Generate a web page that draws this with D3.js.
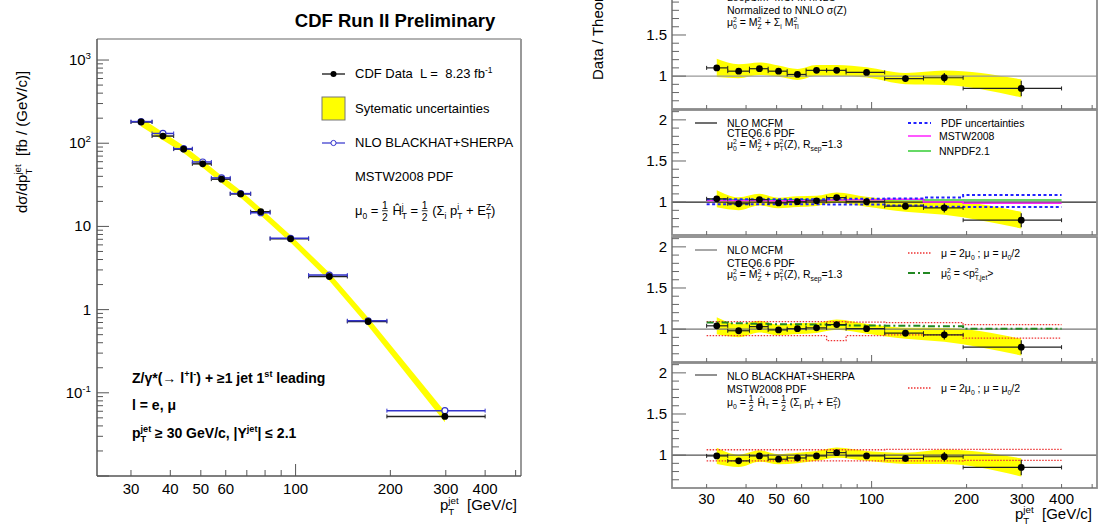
<!DOCTYPE html>
<html>
<head>
<meta charset="utf-8">
<script src="https://cdn.jsdelivr.net/npm/d3@7"></script>
<style>
  body { margin: 0; background: #fff; }
  svg { font-family: "Liberation Sans", Arial, sans-serif; }
  svg text { white-space: pre; }
</style>
</head>
<body>
<div id="chart"></div>
<script>
// bins of leading jet pT (GeV/c)
var binEdges = [30, 35, 41, 47, 54, 62, 72, 83, 110, 146, 195, 400];
var binCenters = [32.3, 37.9, 44.1, 50.7, 58.2, 66.9, 77.5, 96.4, 128, 170, 298];

// cross sections fb/(GeV/c)
var xsData = [180, 122, 85, 56.5, 37, 24.6, 15, 7.1, 2.5, 0.72, 0.052];
var xsTheory = [182, 131, 86, 59.5, 38.3, 24.8, 14.6, 7.2, 2.6, 0.735, 0.061];
var sysTotal = [0.12, 0.11, 0.10, 0.10, 0.10, 0.10, 0.10, 0.10, 0.11, 0.12, 0.15];

// data / theory ratios
var ratioLoopSim = [1.10, 1.06, 1.09, 1.06, 1.02, 1.07, 1.07, 1.045, 0.97, 0.98, 0.85];
var ratioMcfm = [1.04, 0.98, 1.03, 0.99, 1.005, 1.015, 1.055, 1.005, 0.95, 0.93, 0.78];
var ratioBlackhat = [0.99, 0.93, 0.99, 0.95, 0.965, 0.99, 1.03, 0.99, 0.96, 0.98, 0.85];
var sysErr = [0.10, 0.08, 0.07, 0.065, 0.065, 0.06, 0.06, 0.06, 0.07, 0.09, 0.13];
var statErr = [0.01, 0.01, 0.012, 0.015, 0.015, 0.02, 0.025, 0.025, 0.04, 0.06, 0.11];

// theory variations (ratio to nominal)
var pdfUp = [1.035, 1.035, 1.035, 1.035, 1.035, 1.035, 1.04, 1.04, 1.045, 1.055, 1.085];
var pdfDown = [0.975, 0.975, 0.975, 0.975, 0.975, 0.975, 0.97, 0.97, 0.96, 0.945, 0.94];
var mstw = [1.02, 1.02, 1.02, 1.015, 1.015, 1.02, 1.025, 1.03, 1.035, 1.0, 0.985];
var nnpdf = [1.03, 1.03, 1.03, 1.03, 1.03, 1.03, 1.03, 1.03, 1.03, 1.025, 1.025];
var mcfmScaleUp = [1.09, 1.09, 1.09, 1.09, 1.09, 1.09, 1.09, 1.085, 1.08, 1.08, 1.055];
var mcfmScaleDown = [0.92, 0.92, 0.92, 0.92, 0.92, 0.92, 0.86, 0.92, 0.93, 0.93, 0.89];
var mcfmPtJet = [1.08, 1.07, 1.065, 1.06, 1.06, 1.055, 1.05, 1.045, 1.04, 1.035, 1.005];
var bhScaleUp = [1.065, 1.065, 1.065, 1.065, 1.065, 1.065, 1.065, 1.065, 1.07, 1.07, 1.07];
var bhScaleDown = [0.93, 0.93, 0.93, 0.93, 0.93, 0.93, 0.93, 0.93, 0.93, 0.93, 0.935];

var xTickLabels = [30, 40, 50, 60, 100, 200, 300, 400];
var xTicks = [30, 40, 50, 60, 70, 80, 90, 100, 200, 300, 400, 500];

var svg = d3.select("#chart").append("svg")
  .attr("width", 1102).attr("height", 526);
svg.append("rect").attr("width", 1102).attr("height", 526).attr("fill", "#fff");

// text with sub/superscripts and fractions
function rich(g, x, y, parts, size, weight) {
  var cx = x;
  function put(tx, ty, s, fs) {
    return g.append("text").attr("x", tx).attr("y", ty).attr("font-size", fs)
      .attr("font-weight", weight || "normal").attr("fill", "#000").text(s);
  }
  parts.forEach(function(p) {
    if (typeof p === "string") {
      cx += put(cx, y, p, size).node().getComputedTextLength();
    } else if (p.frac) {
      var fs = size * 0.8;
      var a = put(cx, y - size * 0.45, p.frac[0], fs);
      var b = put(cx, y + size * 0.45, p.frac[1], fs);
      var w = Math.max(a.node().getComputedTextLength(), b.node().getComputedTextLength());
      g.append("line").attr("x1", cx).attr("x2", cx + w)
        .attr("y1", y - size * 0.33).attr("y2", y - size * 0.33)
        .attr("stroke", "#000").attr("stroke-width", 0.8);
      cx += w + 1;
    } else {
      var fs2 = size * 0.65, w2 = 0;
      if (p.sup) w2 = Math.max(w2, put(cx, y - size * 0.42, p.sup, fs2).node().getComputedTextLength());
      if (p.sub) w2 = Math.max(w2, put(cx, y + size * 0.3, p.sub, fs2).node().getComputedTextLength());
      cx += w2;
    }
  });
  return cx - x;
}

function stepPoints(vals) {
  var pts = [];
  vals.forEach(function(v, i) {
    pts.push([binEdges[i], v]);
    pts.push([binEdges[i + 1], v]);
  });
  return pts;
}

// ---------------- left: cross section ----------------
var xL = d3.scaleLog().domain([23.4, 520]).range([97, 521]);
var yL = d3.scaleLog().domain([0.01, 1790]).range([476, 39]);

var left = svg.append("g");

// systematic band
var bandL = binCenters.map(function(c, i) {
  return {x: c, lo: xsData[i] * (1 - sysTotal[i]), hi: xsData[i] * (1 + sysTotal[i])};
});
left.append("path").datum(bandL)
  .attr("d", d3.area().x(function(d) { return xL(d.x); })
    .y0(function(d) { return yL(d.lo); }).y1(function(d) { return yL(d.hi); }))
  .attr("fill", "#ffff00");

function hbar(g, x0, x1, y, color, w) {
  g.append("line").attr("x1", x0).attr("x2", x1).attr("y1", y).attr("y2", y)
    .attr("stroke", color).attr("stroke-width", w);
  [x0, x1].forEach(function(xx) {
    g.append("line").attr("x1", xx).attr("x2", xx).attr("y1", y - 2).attr("y2", y + 2)
      .attr("stroke", color).attr("stroke-width", 1);
  });
}

xsData.forEach(function(v, i) {
  hbar(left, xL(binEdges[i]), xL(binEdges[i + 1]), yL(v), "#222", 1.5);
});
xsTheory.forEach(function(v, i) {
  hbar(left, xL(binEdges[i]), xL(binEdges[i + 1]), yL(v), "#3333cc", 1.5);
});
left.selectAll(".th").data(xsTheory).enter().append("circle")
  .attr("cx", function(d, i) { return xL(binCenters[i]); })
  .attr("cy", function(d) { return yL(d); })
  .attr("r", 3).attr("fill", "#fff").attr("stroke", "#3333cc").attr("stroke-width", 1.2);
left.selectAll(".pt").data(xsData).enter().append("circle")
  .attr("cx", function(d, i) { return xL(binCenters[i]); })
  .attr("cy", function(d) { return yL(d); })
  .attr("r", 3.4).attr("fill", "#000");

// frame
left.append("line").attr("x1", 97).attr("x2", 521).attr("y1", 39).attr("y2", 39).attr("stroke", "#999").attr("stroke-width", 1.5);
left.append("line").attr("x1", 521).attr("x2", 521).attr("y1", 39).attr("y2", 476).attr("stroke", "#999").attr("stroke-width", 2);
left.append("line").attr("x1", 97).attr("x2", 97).attr("y1", 39).attr("y2", 476).attr("stroke", "#555").attr("stroke-width", 1.5);
left.append("line").attr("x1", 97).attr("x2", 521).attr("y1", 476).attr("y2", 476).attr("stroke", "#555").attr("stroke-width", 1.5);

// y ticks
for (var e = -2; e <= 3; e++) {
  for (var m = 1; m <= 9; m++) {
    var v = m * Math.pow(10, e);
    if (v < 0.01 || v > 1790) continue;
    var yy = yL(v);
    left.append("line").attr("x1", 97).attr("x2", 97 + (m === 1 ? 12 : 6))
      .attr("y1", yy).attr("y2", yy).attr("stroke", "#555").attr("stroke-width", 1);
  }
}
var yLabels = [[0.1, ["10", {sup: "-1"}]], [1, ["1"]], [10, ["10"]], [100, ["10", {sup: "2"}]], [1000, ["10", {sup: "3"}]]];
yLabels.forEach(function(l) {
  var g = left.append("g");
  var w = rich(g, 0, 0, l[1], 15);
  g.attr("transform", "translate(" + (91 - w) + "," + (yL(l[0]) + 5) + ")");
});

// x ticks
xTicks.forEach(function(t) {
  left.append("line").attr("x1", xL(t)).attr("x2", xL(t)).attr("y1", 476)
    .attr("y2", 476 - (t === 100 ? 12 : 6)).attr("stroke", "#555").attr("stroke-width", 1);
});
left.selectAll(".xl").data(xTickLabels).enter().append("text")
  .attr("x", function(d) { return xL(d); }).attr("y", 494)
  .attr("text-anchor", "middle").attr("font-size", 15).text(function(d) { return d; });

// axis titles
rich(left, 440, 510, ["p", {sup: "jet", sub: "T"}, "  [GeV/c]"], 15);
var yt = left.append("g").attr("transform", "translate(27,213) rotate(-90)");
rich(yt, 0, 0, ["dσ/dp", {sup: "jet", sub: "T"}, "  [fb / (GeV/c)]"], 15);

// title
svg.append("text").attr("x", 395).attr("y", 27).attr("text-anchor", "middle")
  .attr("font-size", 18.5).attr("font-weight", "bold").text("CDF Run II Preliminary");

// legend
var fsL = 13;
var lg = left.append("g");
lg.append("line").attr("x1", 322).attr("x2", 345).attr("y1", 74).attr("y2", 74).attr("stroke", "#000").attr("stroke-width", 1.2);
lg.append("circle").attr("cx", 333.5).attr("cy", 74).attr("r", 3).attr("fill", "#000");
rich(lg, 355, 78, ["CDF Data  L =  8.23 fb", {sup: "-1"}], fsL);
lg.append("rect").attr("x", 322).attr("y", 97).attr("width", 23).attr("height", 23)
  .attr("fill", "#ffff00").attr("stroke", "#777").attr("stroke-width", 1);
rich(lg, 355, 113, ["Sytematic uncertainties"], fsL);
lg.append("line").attr("x1", 322).attr("x2", 345).attr("y1", 143).attr("y2", 143).attr("stroke", "#3333cc").attr("stroke-width", 1.2);
lg.append("circle").attr("cx", 333.5).attr("cy", 143).attr("r", 2.6).attr("fill", "#fff").attr("stroke", "#3333cc");
rich(lg, 355, 147, ["NLO BLACKHAT+SHERPA"], fsL);
rich(lg, 355, 181, ["MSTW2008 PDF"], fsL);
rich(lg, 355, 215, ["μ", {sub: "0"}, " = ", {frac: ["1", "2"]}, " Ĥ", {sup: "j", sub: "T"}, " = ",
  {frac: ["1", "2"]}, " (Σ", {sub: "i"}, " p", {sup: "i", sub: "T"}, " + E", {sup: "Z", sub: "T"}, ")"], fsL);

// selection text
rich(left, 132, 383, ["Z/γ*(→ l", {sup: "+"}, "l", {sup: "-"}, ") + ≥1 jet 1", {sup: "st"}, " leading"], 14, "bold");
rich(left, 132, 410, ["l = e, μ"], 14, "bold");
rich(left, 132, 438, ["p", {sup: "jet", sub: "T"}, " ≥ 30 GeV/c, |Y", {sup: "jet"}, "| ≤ 2.1"], 14, "bold");

// ---------------- right: ratio panels ----------------
var xR = d3.scaleLog().domain([23.3, 518]).range([672, 1097]);
var panelH = 125;
var defs = svg.append("defs");

function ratioPanel(idx, top, ratio, unityColor, variations) {
  var y = d3.scaleLinear().domain([0.6, 2.12]).range([top + panelH, top]);
  defs.append("clipPath").attr("id", "clip" + idx).append("rect")
    .attr("x", 672).attr("y", top).attr("width", 425).attr("height", panelH);
  var g = svg.append("g");
  var c = g.append("g").attr("clip-path", "url(#clip" + idx + ")");

  var band = binCenters.map(function(bc, i) {
    return {x: bc, lo: ratio[i] * (1 - sysErr[i]), hi: ratio[i] * (1 + sysErr[i])};
  });
  c.append("path").datum(band)
    .attr("d", d3.area().x(function(d) { return xR(d.x); })
      .y0(function(d) { return y(d.lo); }).y1(function(d) { return y(d.hi); })
      .curve(d3.curveMonotoneX))
    .attr("fill", "#ffff00");

  c.append("line").attr("x1", 672).attr("x2", 1097).attr("y1", y(1)).attr("y2", y(1))
    .attr("stroke", unityColor).attr("stroke-width", 1.3);

  var line = d3.line().x(function(d) { return xR(d[0]); }).y(function(d) { return y(d[1]); });
  variations.forEach(function(vr) {
    c.append("path").datum(stepPoints(vr.vals)).attr("d", line)
      .attr("fill", "none").attr("stroke", vr.color).attr("stroke-width", vr.width)
      .attr("stroke-dasharray", vr.dash || null);
  });

  ratio.forEach(function(r, i) {
    hbar(c, xR(binEdges[i]), xR(binEdges[i + 1]), y(r), "#222", 1.2);
    c.append("line").attr("x1", xR(binCenters[i])).attr("x2", xR(binCenters[i]))
      .attr("y1", y(r * (1 - statErr[i]))).attr("y2", y(r * (1 + statErr[i])))
      .attr("stroke", "#222").attr("stroke-width", 1.2);
  });
  c.selectAll(".rp").data(ratio).enter().append("circle")
    .attr("cx", function(d, i) { return xR(binCenters[i]); })
    .attr("cy", function(d) { return y(d); })
    .attr("r", 3.4).attr("fill", "#000");

  // frame
  g.append("rect").attr("x", 672).attr("y", top).attr("width", 425).attr("height", panelH)
    .attr("fill", "none").attr("stroke", "#8a8a8a").attr("stroke-width", 1.8);

  // y ticks
  for (var k = 7; k <= 21; k++) {
    var yy = y(k / 10);
    var major = (k === 10 || k === 15 || k === 20);
    if (yy < 0) continue;
    g.append("line").attr("x1", 672).attr("x2", 672 + (major ? 14 : 7))
      .attr("y1", yy).attr("y2", yy).attr("stroke", "#666").attr("stroke-width", 1);
  }
  [1, 1.5, 2].forEach(function(v) {
    g.append("text").attr("x", 667).attr("y", y(v) + 5).attr("text-anchor", "end")
      .attr("font-size", 15).text(v);
  });
  // x ticks
  xTicks.forEach(function(t) {
    g.append("line").attr("x1", xR(t)).attr("x2", xR(t)).attr("y1", top + panelH)
      .attr("y2", top + panelH - (t === 100 ? 7 : 4)).attr("stroke", "#666").attr("stroke-width", 1);
  });
  return g;
}

var red = "#ee3333";
var p1 = ratioPanel(1, -16, ratioLoopSim, "#999", []);
var p2 = ratioPanel(2, 110, ratioMcfm, "#222", [
  {vals: nnpdf, color: "#33cc33", width: 1.5},
  {vals: mstw, color: "#ff22ff", width: 1.5},
  {vals: pdfUp, color: "#2222ff", width: 2, dash: "3,2.5"},
  {vals: pdfDown, color: "#2222ff", width: 2, dash: "3,2.5"}
]);
var p3 = ratioPanel(3, 237, ratioMcfm, "#777", [
  {vals: mcfmScaleUp, color: red, width: 1.3, dash: "1.5,1.5"},
  {vals: mcfmScaleDown, color: red, width: 1.3, dash: "1.5,1.5"},
  {vals: mcfmPtJet, color: "#228822", width: 2, dash: "7,3,2,3"}
]);
var p4 = ratioPanel(4, 363, ratioBlackhat, "#555", [
  {vals: bhScaleUp, color: red, width: 1.3, dash: "1.5,1.5"},
  {vals: bhScaleDown, color: red, width: 1.3, dash: "1.5,1.5"}
]);

// panel legends
var fsR = 10.5;
rich(p1, 727, 1, ["LoopSim+MCFM nNLO"], fsR);
rich(p1, 727, 14, ["Normalized to NNLO σ(Z)"], fsR);
rich(p1, 727, 26, ["μ", {sup: "2", sub: "0"}, " = M", {sup: "2", sub: "Z"}, " + Σ", {sub: "i"}, " M", {sup: "2", sub: "Ti"}], fsR);

function legLine(g, y, color, width, dash) {
  g.append("line").attr("x1", 695).attr("x2", 717).attr("y1", y).attr("y2", y)
    .attr("stroke", color).attr("stroke-width", width).attr("stroke-dasharray", dash || null);
}
function legLineR(g, y, color, width, dash) {
  g.append("line").attr("x1", 908).attr("x2", 931).attr("y1", y).attr("y2", y)
    .attr("stroke", color).attr("stroke-width", width).attr("stroke-dasharray", dash || null);
}

legLine(p2, 123, "#222", 1.3);
rich(p2, 727, 127, ["NLO MCFM"], fsR);
rich(p2, 727, 137, ["CTEQ6.6 PDF"], fsR);
rich(p2, 727, 148, ["μ", {sup: "2", sub: "0"}, " = M", {sup: "2", sub: "Z"}, " + p", {sup: "2", sub: "T"}, "(Z), R", {sub: "sep"}, "=1.3"], fsR);
legLineR(p2, 123, "#2222ff", 2, "3,2.5");
rich(p2, 941, 127, ["PDF uncertainties"], fsR);
legLineR(p2, 136, "#ff22ff", 1.5);
rich(p2, 939, 140, ["MSTW2008"], fsR);
legLineR(p2, 151, "#33cc33", 1.5);
rich(p2, 939, 155, ["NNPDF2.1"], fsR);

legLine(p3, 250, "#777", 1.3);
rich(p3, 727, 254, ["NLO MCFM"], fsR);
rich(p3, 727, 267, ["CTEQ6.6 PDF"], fsR);
rich(p3, 727, 278, ["μ", {sup: "2", sub: "0"}, " = M", {sup: "2", sub: "Z"}, " + p", {sup: "2", sub: "T"}, "(Z), R", {sub: "sep"}, "=1.3"], fsR);
legLineR(p3, 253, red, 1.3, "1.5,1.5");
rich(p3, 941, 257, ["μ = 2μ", {sub: "0"}, " ; μ = μ", {sub: "0"}, "/2"], fsR);
legLineR(p3, 273, "#228822", 2, "7,3,2,3");
rich(p3, 941, 277, ["μ", {sup: "2", sub: "0"}, " = <p", {sup: "2", sub: "T,jet"}, ">"], fsR);

legLine(p4, 375, "#555", 1.3);
rich(p4, 727, 380, ["NLO BLACKHAT+SHERPA"], fsR);
rich(p4, 727, 393, ["MSTW2008 PDF"], fsR);
rich(p4, 727, 406, ["μ", {sub: "0"}, " = ", {frac: ["1", "2"]}, " Ĥ", {sub: "T"}, " = ",
  {frac: ["1", "2"]}, " (Σ", {sub: "i"}, " p", {sup: "i", sub: "T"}, " + E", {sup: "Z", sub: "T"}, ")"], fsR);
legLineR(p4, 388, red, 1.3, "1.5,1.5");
rich(p4, 941, 392, ["μ = 2μ", {sub: "0"}, " ; μ = μ", {sub: "0"}, "/2"], fsR);

// bottom axis labels for ratio panels
svg.selectAll(".xr").data(xTickLabels).enter().append("text")
  .attr("x", function(d) { return xR(d); }).attr("y", 504)
  .attr("text-anchor", "middle").attr("font-size", 15).text(function(d) { return d; });
rich(svg, 1015, 519, ["p", {sup: "jet", sub: "T"}, "  [GeV/c]"], 15);

var yr = svg.append("g").attr("transform", "translate(603,80) rotate(-90)");
rich(yr, 0, 0, ["Data / Theory"], 15);
</script>
</body>
</html>
